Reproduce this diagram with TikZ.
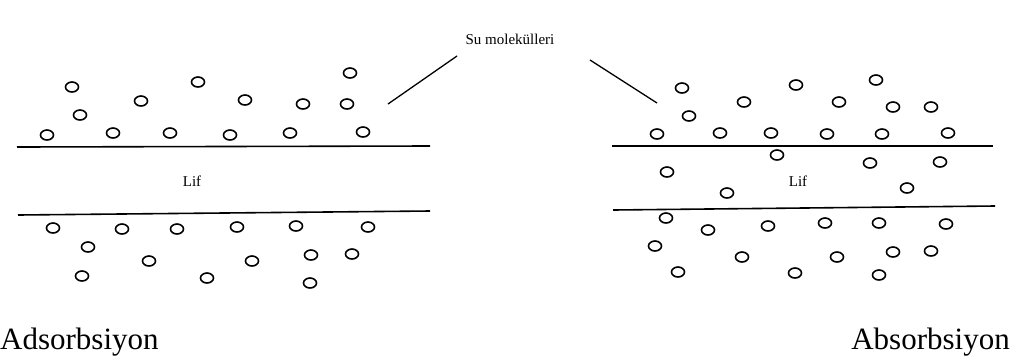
\documentclass[tikz,border=0pt]{standalone}
\usepackage{fontspec}
\setmainfont{Liberation Serif}
\usetikzlibrary{shapes.geometric}

\tikzset{
  mol/.style={draw,ellipse,line width=1.6pt,minimum width=13pt,minimum height=10pt,inner sep=0pt},
  wall/.style={line width=1.6pt},
  pointer/.style={line width=1.3pt}
}

\begin{document}
\begin{tikzpicture}[x=1pt,y=-1pt]
  \useasboundingbox (0,0) rectangle (1012,360);
  % left: adsorption
  \draw[wall] (17,147) -- (430,146);
  \draw[wall] (18,215) -- (430,211);
  \foreach \x/\y [count=\i] in {72/87,198/82,350/73,141/101,245/100,303/104,347/104,80/115,
      47/135,113/133,170/133,230/135,290/133,363/132}
    \node[mol] (lt\i) at (\x,\y) {};
  \foreach \x/\y [count=\i] in {53/228,122/229,177/229,237/227,296/226,368/227,88/247,149/261,
      252/261,311/255,352/254,82/276,207/278,310/283}
    \node[mol] (lb\i) at (\x,\y) {};
  \node[anchor=base,font=\fontsize{15}{15}\selectfont] (lif1) at (192,186){Lif};
  % right: absorption
  \draw[wall] (612,146) -- (993,146);
  \draw[wall] (613,210) -- (995,206);
  \foreach \x/\y [count=\i] in {682/88,796/85,876/80,744/102,839/102,893/107,931/107,689/116,
      657/134,720/133,771/133,827/134,882/134,948/133}
    \node[mol] (rt\i) at (\x,\y) {};
  \foreach \x/\y [count=\i] in {777/155,667/172,870/163,940/162,727/193,907/188}
    \node[mol] (rm\i) at (\x,\y) {};
  \foreach \x/\y [count=\i] in {666/218,708/230,768/226,825/223,879/223,946/224,655/246,742/257,
      837/257,893/252,931/251,678/272,795/273,879/275}
    \node[mol] (rb\i) at (\x,\y) {};
  \node[anchor=base,font=\fontsize{15}{15}\selectfont] (lif2) at (798,186){Lif};
  % label with pointers
  \node[anchor=base,font=\fontsize{15}{15}\selectfont] (su) at (510,44){Su molekülleri};
  \coordinate (pl1) at (388,104);
  \coordinate (pl2) at (457,56);
  \coordinate (pr1) at (590,60);
  \coordinate (pr2) at (657,103);
  \draw[pointer] (pl1) -- (pl2);
  \draw[pointer] (pr1) -- (pr2);
  \node[anchor=base west,inner sep=0pt,font=\fontsize{31}{31}\selectfont] (ads) at (0,349){Adsorbsiyon};
  \node[anchor=base east,inner sep=0pt,font=\fontsize{31}{31}\selectfont] (abs) at (1010,349){Absorbsiyon};
\end{tikzpicture}
\end{document}
